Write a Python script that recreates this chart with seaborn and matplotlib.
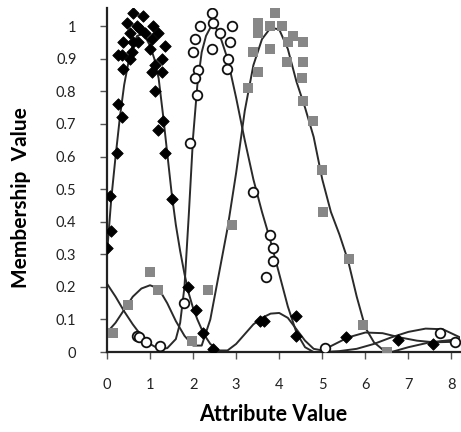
import seaborn as sns
import matplotlib
matplotlib.use("Agg")
import matplotlib.pyplot as plt
import pandas as pd

# scatter points
black_x = [0.00, 0.09, 0.07, 0.23, 0.26, 0.35, 0.35, 0.26, 0.37, 0.37, 0.53, 0.47, 0.60, 0.53, 0.58,
           0.60, 0.70, 0.72, 0.77, 0.84, 0.88, 1.00, 1.05, 1.05, 1.07, 1.12, 1.12, 1.19, 1.28, 1.28,
           1.30, 1.19, 1.35, 1.35, 1.51, 1.88, 2.07, 2.23, 2.47, 3.56, 3.65, 4.40, 4.40, 5.56, 6.77, 7.56]
black_y = [0.32, 0.37, 0.48, 0.61, 0.76, 0.72, 0.91, 0.91, 0.87, 0.95, 0.98, 1.01, 1.04, 0.90, 0.92,
           0.95, 1.00, 0.95, 0.99, 1.03, 0.98, 0.93, 0.96, 0.86, 1.00, 0.88, 0.80, 0.98, 0.90, 0.86,
           0.71, 0.68, 0.94, 0.61, 0.47, 0.20, 0.13, 0.06, 0.01, 0.095, 0.095, 0.11, 0.05, 0.046, 0.037, 0.025]

open_x = [2.44, 2.16, 2.47, 2.63, 2.91, 2.05, 2.86, 2.00, 2.44, 2.81, 2.79, 2.12, 2.05, 2.09, 1.93,
          3.40, 1.79, 3.79, 3.86, 3.86, 3.70, 0.70, 0.74, 0.91, 1.23, 5.07, 7.74, 8.09]
open_y = [1.04, 1.00, 1.01, 0.98, 1.00, 0.96, 0.95, 0.92, 0.93, 0.90, 0.87, 0.865, 0.84, 0.79, 0.64,
          0.49, 0.15, 0.36, 0.32, 0.28, 0.23, 0.05, 0.046, 0.03, 0.018, 0.012, 0.06, 0.03]

gray_x = [3.91, 3.51, 3.79, 4.07, 3.51, 4.33, 4.56, 4.21, 3.40, 3.79, 4.19, 4.56, 3.51, 4.53, 4.56,
          4.79, 5.00, 3.28, 5.02, 5.63, 5.95, 6.51, 2.91, 2.35, 1.98, 1.19, 1.00, 0.49, 0.14]
gray_y = [1.04, 1.01, 1.00, 1.00, 0.98, 0.97, 0.95, 0.95, 0.92, 0.93, 0.89, 0.89, 0.86, 0.84, 0.77,
          0.71, 0.56, 0.81, 0.43, 0.285, 0.083, 0.0, 0.39, 0.19, 0.034, 0.19, 0.245, 0.145, 0.06]

# fitted curves
curve_a_x = [0, 0.1, 0.2, 0.3, 0.4, 0.5, 0.6, 0.7, 0.8, 0.9, 1.0, 1.1, 1.2, 1.3, 1.4, 1.5, 1.6, 1.7,
             1.8, 1.9, 2.0, 2.1, 2.2, 2.3, 2.4, 2.6, 2.8, 3.0, 3.2, 3.4, 3.6, 3.8, 4.0, 4.2, 4.4, 4.6,
             4.8, 5.0, 5.3, 5.6, 6.0, 6.4, 6.8, 7.2, 7.6, 8.2]
curve_a_y = [0.30, 0.47, 0.60, 0.72, 0.82, 0.89, 0.94, 0.97, 0.975, 0.965, 0.94, 0.90, 0.84, 0.73,
             0.61, 0.49, 0.39, 0.31, 0.24, 0.18, 0.135, 0.10, 0.07, 0.045, 0.025, 0.005, 0.005, 0.025,
             0.055, 0.085, 0.105, 0.118, 0.12, 0.105, 0.07, 0.035, 0.01, 0.005, 0.025, 0.045, 0.06,
             0.058, 0.045, 0.035, 0.03, 0.032]

curve_b_x = [0, 0.2, 0.4, 0.6, 0.8, 1.0, 1.2, 1.4, 1.6, 1.7, 1.8, 1.9, 2.0, 2.1, 2.2, 2.3, 2.4, 2.5,
             2.6, 2.8, 3.0, 3.2, 3.4, 3.6, 3.8, 4.0, 4.2, 4.4, 4.6, 4.8, 5.0, 5.4, 5.8, 6.2, 6.6, 7.0,
             7.4, 7.8, 8.2]
curve_b_y = [0.21, 0.17, 0.125, 0.085, 0.05, 0.025, 0.01, 0.012, 0.04, 0.09, 0.2, 0.42, 0.66, 0.82,
             0.92, 0.97, 0.995, 1.0, 0.98, 0.9, 0.78, 0.65, 0.53, 0.43, 0.34, 0.24, 0.14, 0.06, 0.015,
             0.0, 0.0, 0.003, 0.01, 0.025, 0.045, 0.062, 0.072, 0.07, 0.045]

curve_c_x = [0, 0.2, 0.4, 0.6, 0.8, 1.0, 1.2, 1.4, 1.6, 1.8, 2.0, 2.2, 2.4, 2.6, 2.8, 3.0, 3.2, 3.4,
             3.6, 3.8, 4.0, 4.2, 4.4, 4.6, 4.8, 5.0, 5.2, 5.4, 5.6, 5.8, 6.0, 6.2, 6.4, 6.6, 7.0, 7.5, 8.2]
curve_c_y = [0.06, 0.09, 0.13, 0.17, 0.195, 0.205, 0.195, 0.15, 0.095, 0.05, 0.02, 0.02, 0.1, 0.24,
             0.38, 0.55, 0.74, 0.88, 0.96, 0.995, 0.99, 0.93, 0.83, 0.75, 0.66, 0.53, 0.43, 0.36, 0.28,
             0.17, 0.075, 0.03, 0.008, 0.0, 0.015, 0.03, 0.04]

x_ticks = [0, 1, 2, 3, 4, 5, 6, 7, 8]
y_ticks = [0, 0.1, 0.2, 0.3, 0.4, 0.5, 0.6, 0.7, 0.8, 0.9, 1.0]
y_tick_labels = ["0", "0.1", "0.2", "0.3", "0.4", "0.5", "0.6", "0.7", "0.8", "0.9", "1"]

sns.set_theme(style="white")
plt.rcParams["font.family"] = ["Lato", "DejaVu Sans"]

fig = plt.figure(figsize=(4.61, 4.32), dpi=100)
ax = fig.add_axes([0.232, 0.185, 0.766, 0.796])

line_kw = dict(color="#2a2a2a", linewidth=1.4, estimator=None, sort=False, ax=ax)
sns.lineplot(x=curve_a_x, y=curve_a_y, **line_kw)
sns.lineplot(x=curve_b_x, y=curve_b_y, **line_kw)
sns.lineplot(x=curve_c_x, y=curve_c_y, **line_kw)

sns.scatterplot(x=gray_x, y=gray_y, marker="s", s=60, color="#878787", edgecolor="#878787",
                linewidth=0, ax=ax, zorder=3)
sns.scatterplot(x=open_x, y=open_y, marker="o", s=48, facecolor="white", edgecolor="#111111",
                linewidth=1.3, ax=ax, zorder=4)
sns.scatterplot(x=black_x, y=black_y, marker="D", s=34, color="black", edgecolor="black",
                linewidth=0.6, ax=ax, zorder=5)

ax.set_xlim(0, 8.2)
ax.set_ylim(0, 1.055)
ax.set_xticks(x_ticks)
ax.set_yticks(y_ticks)
ax.set_yticklabels(y_tick_labels)
sns.despine(ax=ax)
for s in ["left", "bottom"]:
    ax.spines[s].set_color("#222222")
    ax.spines[s].set_linewidth(1.6)
ax.tick_params(axis="both", direction="out", length=5, width=1, color="#555555",
               labelsize=10.5, labelcolor="#222222")
ax.tick_params(axis="y", pad=17)
ax.tick_params(axis="x", pad=14)
ax.tick_params(left=True, bottom=True)

ax.set_xlabel("Attribute Value", fontsize=15.5, fontweight="bold", color="black")
ax.set_ylabel("Membership  Value", fontsize=15, fontweight="bold", color="black")
ax.xaxis.set_label_coords(0.47, -0.15)
ax.yaxis.set_label_coords(-0.215, 0.45)

plt.savefig("out.png", dpi=100)
